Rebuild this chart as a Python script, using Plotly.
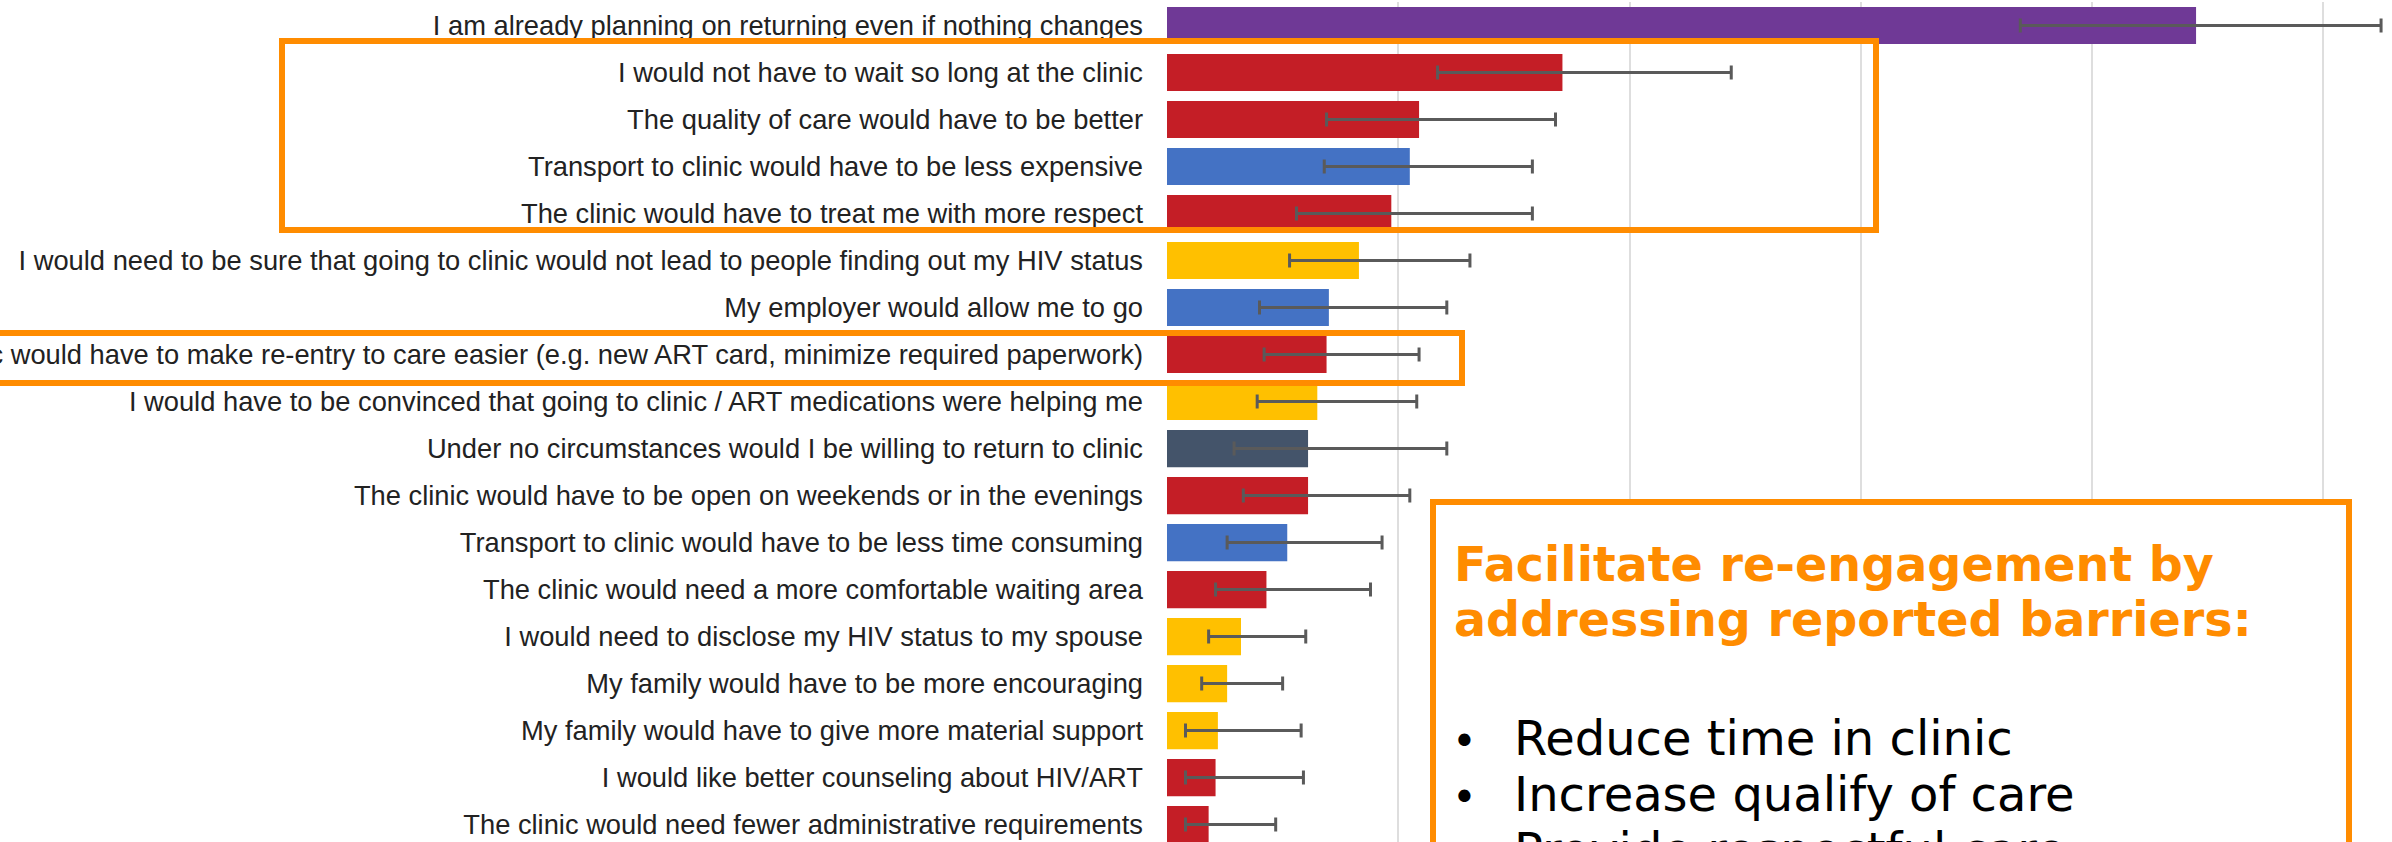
import plotly.graph_objects as go

# survey answers, top to bottom
reasons = [
    "I am already planning on returning even if nothing changes",
    "I would not have to wait so long at the clinic",
    "The quality of care would have to be better",
    "Transport to clinic would have to be less expensive",
    "The clinic would have to treat me with more respect",
    "I would need to be sure that going to clinic would not lead to people finding out my HIV status",
    "My employer would allow me to go",
    "The clinic would have to make re-entry to care easier (e.g. new ART card, minimize required paperwork)",
    "I would have to be convinced that going to clinic / ART medications were helping me",
    "Under no circumstances would I be willing to return to clinic",
    "The clinic would have to be open on weekends or in the evenings",
    "Transport to clinic would have to be less time consuming",
    "The clinic would need a more comfortable waiting area",
    "I would need to disclose my HIV status to my spouse",
    "My family would have to be more encouraging",
    "My family would have to give more material support",
    "I would like better counseling about HIV/ART",
    "The clinic would need fewer administrative requirements",
]
groups = ["return", "clinic", "clinic", "structural", "clinic", "personal",
          "structural", "clinic", "personal", "refuse", "clinic", "structural",
          "clinic", "personal", "personal", "personal", "clinic", "clinic"]
pct = [44.5, 17.1, 10.9, 10.5, 9.7, 8.3, 7.0, 6.9, 6.5,
       6.1, 6.1, 5.2, 4.3, 3.2, 2.6, 2.2, 2.1, 1.8]
ci_low = [36.9, 11.7, 6.9, 6.8, 5.6, 5.3, 4.0, 4.2, 3.9,
          2.9, 3.3, 2.6, 2.1, 1.8, 1.5, 0.8, 0.8, 0.8]
ci_high = [52.5, 24.4, 16.8, 15.8, 15.8, 13.1, 12.1, 10.9, 10.8,
           12.1, 10.5, 9.3, 8.8, 6.0, 5.0, 5.8, 5.9, 4.7]

box_title = ["Facilitate re-engagement by", "addressing reported barriers:"]
box_points = ["Reduce time in clinic", "Increase qualify of care", "Provide respectful care"]

group_colors = {
    "return": "#6f3996",
    "clinic": "#c41e26",
    "structural": "#4472c4",
    "personal": "#ffc000",
    "refuse": "#44546a",
}
ORANGE = "#ff8c00"

fig = go.Figure(go.Bar(
    x=pct, y=reasons, orientation="h",
    marker=dict(color=[group_colors[g] for g in groups], line=dict(width=0)),
    error_x=dict(type="data", symmetric=False,
                 array=[h - p for h, p in zip(ci_high, pct)],
                 arrayminus=[p - l for p, l in zip(pct, ci_low)],
                 color="#5a5a5a", thickness=3, width=7),
    width=0.79,
))

W, H = 2392, 842
L = 1167
fig.update_layout(
    template="none",
    width=W, height=H,
    margin=dict(l=L, r=0, t=2, b=0),
    paper_bgcolor="white", plot_bgcolor="white",
    showlegend=False,
    font=dict(family="Liberation Sans, Arial, sans-serif", size=27.3, color="#222222"),
)
fig.update_xaxes(range=[0, (W - L) / 23.125], dtick=10, showgrid=True,
                 gridcolor="#dedede", gridwidth=2, zeroline=False,
                 showticklabels=False, showline=False, automargin=False)
fig.update_yaxes(range=[17.37, -0.5], showgrid=False, zeroline=False, showline=False,
                 ticks="", ticklabelstandoff=23, automargin=False)


# pixel helpers for the overlay boxes
def px_x(p):
    return (p - L) / (W - L)


def px_y(p):
    return 1 - (p - 2) / (H - 2)


def box(x0, y0, x1, y1, fill="rgba(0,0,0,0)"):
    fig.add_shape(type="rect", xref="paper", yref="paper",
                  x0=px_x(x0), x1=px_x(x1), y0=px_y(y1), y1=px_y(y0),
                  line=dict(color=ORANGE, width=6), fillcolor=fill, layer="above")


box(282, 41, 1876, 230)
box(-20, 333, 1462, 383)
box(1433, 502, 2349, 900, fill="white")

for i, s in enumerate(box_title):
    base = 583 + i * 55
    fig.add_annotation(xref="paper", yref="paper", x=px_x(1452), y=px_y(base + 11),
                       xanchor="left", yanchor="bottom", showarrow=False,
                       text="<b>" + s + "</b>",
                       font=dict(family="DejaVu Sans", size=47.6, color=ORANGE))

for i, s in enumerate(box_points):
    base = 757 + i * 56
    fig.add_annotation(xref="paper", yref="paper", x=px_x(1450), y=px_y(base + 11),
                       xanchor="left", yanchor="bottom", showarrow=False, text="•",
                       font=dict(family="DejaVu Sans", size=42, color="black"))
    fig.add_annotation(xref="paper", yref="paper", x=px_x(1512), y=px_y(base + 11),
                       xanchor="left", yanchor="bottom", showarrow=False, text=s,
                       font=dict(family="DejaVu Sans", size=48, color="black"))

fig.write_html("out.html", config={"displayModeBar": False},
               post_script="document.body.style.margin='0';document.body.style.overflow='hidden';")
